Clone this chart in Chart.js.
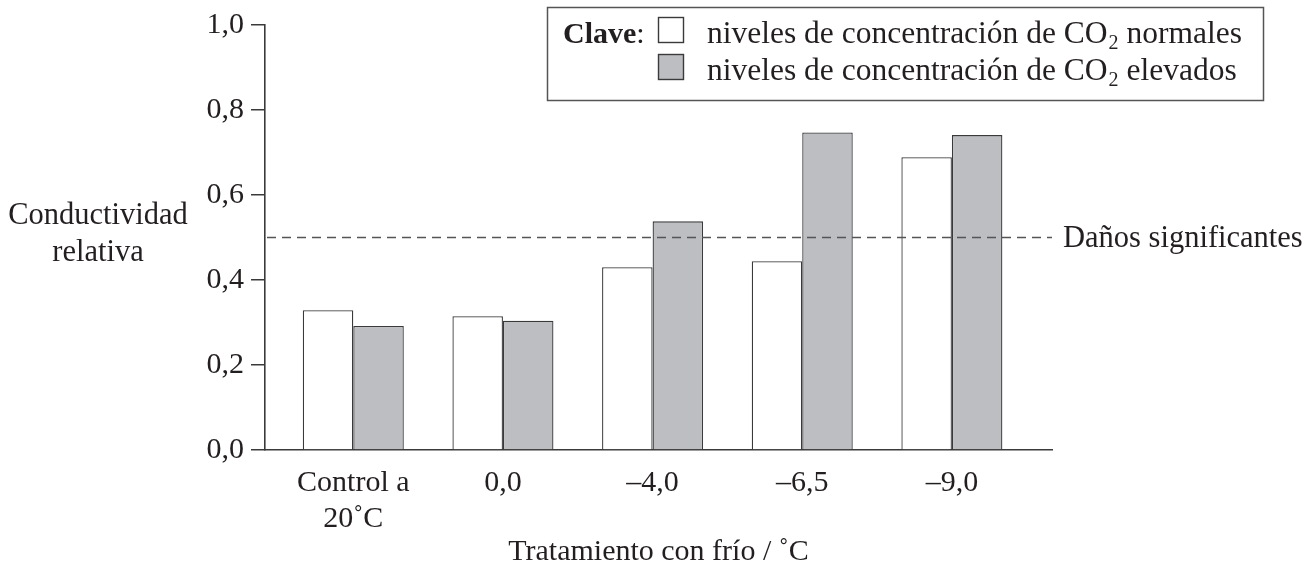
<!DOCTYPE html>
<html>
<head>
<meta charset="utf-8">
<script src="https://cdn.jsdelivr.net/npm/chart.js@4"></script>
<style>
  html, body { margin: 0; background: #fff; }
  #wrap { width: 1315px; height: 570px; }
</style>
</head>
<body>
<div id="wrap"><canvas id="conductChart"></canvas></div>
<script>
const categories = [["Control a", "20˚C"], "0,0", "–4,0", "–6,5", "–9,0"];
const normalValues = [0.329, 0.315, 0.430, 0.444, 0.689];
const elevatedValues = [0.292, 0.304, 0.538, 0.747, 0.741];
const seriesNames = ["niveles de concentración de CO₂ normales", "niveles de concentración de CO₂ elevados"];
const yTickLabels = ["0,0", "0,2", "0,4", "0,6", "0,8", "1,0"];
const damageLevel = 0.5;
const damageLabel = "Daños significantes";

const ink = "#231f20";
const lineCol = "#3a3a3a";
const serif = '"Liberation Serif", "Times New Roman", serif';

// text with a lowered small "2" for CO₂
function drawSubText(ctx, text, x, y) {
  const parts = text.split("₂");
  ctx.font = "31.5px " + serif;
  ctx.fillText(parts[0], x, y);
  x += ctx.measureText(parts[0]).width;
  if (parts.length > 1) {
    ctx.font = "20px " + serif;
    ctx.fillText("2", x + 1, y + 6);
    x += ctx.measureText("2").width + 1;
    ctx.font = "31.5px " + serif;
    ctx.fillText(parts[1], x, y);
  }
}

const extras = {
  id: "extras",
  afterDatasetsDraw(chart) {
    const { ctx, chartArea, scales } = chart;
    const y = scales.y.getPixelForValue(damageLevel);
    ctx.save();
    // threshold line
    ctx.strokeStyle = "#555";
    ctx.lineWidth = 1.4;
    ctx.setLineDash([9, 6]);
    ctx.beginPath();
    ctx.moveTo(chartArea.left + 2, y);
    ctx.lineTo(chartArea.right, y);
    ctx.stroke();
    ctx.setLineDash([]);

    ctx.fillStyle = ink;
    ctx.font = "30.5px " + serif;
    ctx.textBaseline = "middle";
    ctx.fillText(damageLabel, chartArea.right + 11, y + 1);

    // y axis title, horizontal
    ctx.textBaseline = "alphabetic";
    ctx.textAlign = "center";
    ctx.fillText("Conductividad", 98, 224);
    ctx.fillText("relativa", 98, 261);

    // key box
    ctx.textAlign = "left";
    ctx.strokeStyle = "#555";
    ctx.lineWidth = 1.5;
    ctx.strokeRect(547.5, 7.5, 716, 93);
    ctx.font = "bold 30px " + serif;
    ctx.fillText("Clave", 563, 43);
    let w = ctx.measureText("Clave").width;
    ctx.font = "30px " + serif;
    ctx.fillText(":", 563 + w, 43);

    const ds = chart.data.datasets;
    const rows = [17.5, 54.5];
    ds.forEach((d, i) => {
      ctx.fillStyle = d.backgroundColor;
      ctx.fillRect(658.5, rows[i], 25, 25);
      ctx.strokeStyle = lineCol;
      ctx.lineWidth = 1.4;
      ctx.strokeRect(658.5, rows[i], 25, 25);
      ctx.fillStyle = ink;
      drawSubText(ctx, d.label, 707, rows[i] + 25.5);
    });
    ctx.restore();
  }
};

new Chart("conductChart", {
  type: "bar",
  data: {
    datasets: [
      {
        label: seriesNames[0],
        data: normalValues.map((v, i) => ({ x: i, y: v })),
        backgroundColor: "#ffffff",
        borderColor: lineCol,
        borderWidth: 1.3
      },
      {
        label: seriesNames[1],
        data: elevatedValues.map((v, i) => ({ x: i, y: v })),
        backgroundColor: "#bdbec2",
        borderColor: lineCol,
        borderWidth: 1.3
      }
    ]
  },
  options: {
    responsive: true,
    maintainAspectRatio: false,
    animation: false,
    categoryPercentage: 0.675,
    barPercentage: 1,
    layout: { padding: { top: 24, right: 263, left: 0, bottom: 0 } },
    plugins: { legend: { display: false }, tooltip: { enabled: false } },
    scales: {
      x: {
        type: "linear",
        offset: false,
        min: -0.59,
        max: 4.669,
        afterBuildTicks: axis => { axis.ticks = categories.map((c, i) => ({ value: i })); },
        afterFit: axis => { axis.height = 120; },
        grid: { display: false, offset: false },
        border: { display: true, color: lineCol, width: 1.6 },
        ticks: {
          callback: (v, i) => categories[i],
          color: ink,
          padding: 7,
          maxRotation: 0,
          autoSkip: false,
          font: { family: serif, size: 30, lineHeight: 1.2 }
        },
        title: {
          display: true,
          text: "Tratamiento con frío / ˚C",
          color: ink,
          padding: { top: 6, bottom: 0 },
          font: { family: serif, size: 30, lineHeight: 1.2 }
        }
      },
      y: {
        min: 0,
        max: 1,
        afterFit: axis => { axis.width = 265; },
        grid: { display: true, drawOnChartArea: false, drawTicks: true, tickLength: 14, color: lineCol, lineWidth: 1.5 },
        border: { display: true, color: lineCol, width: 1.6 },
        ticks: {
          stepSize: 0.2,
          callback: (v, i) => yTickLabels[i],
          color: ink,
          padding: 7,
          font: { family: serif, size: 30 }
        }
      }
    }
  },
  plugins: [extras]
});
</script>
</body>
</html>
